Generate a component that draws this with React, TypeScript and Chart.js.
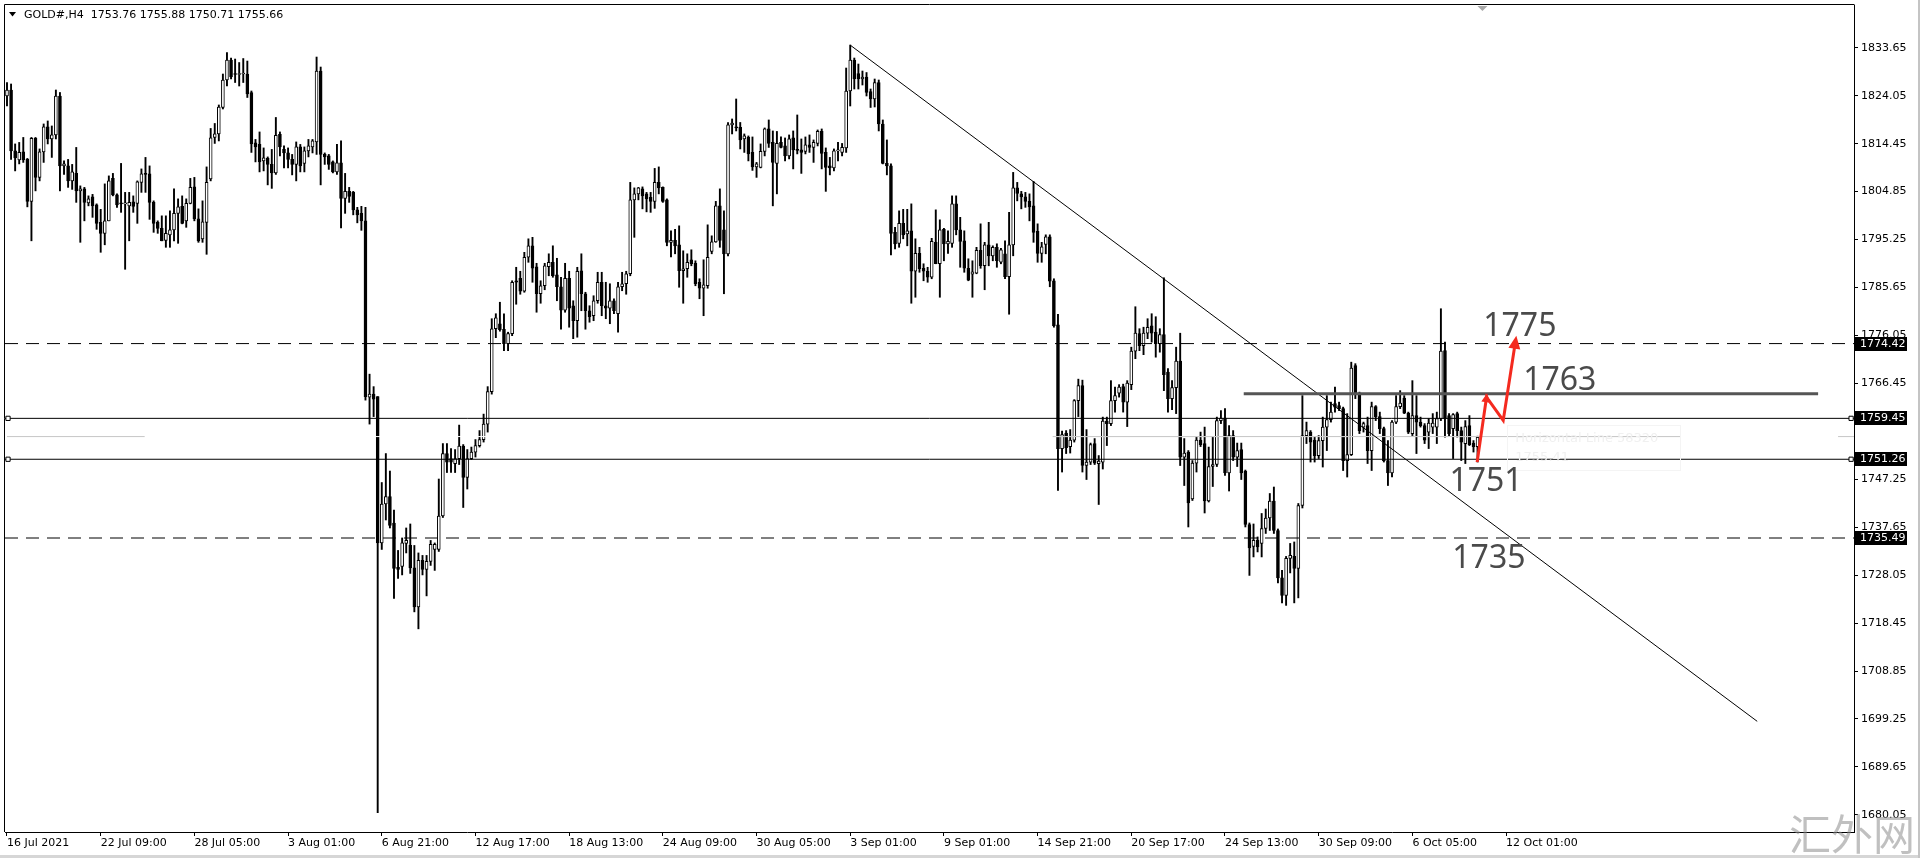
import React, { useEffect, useRef } from 'react';
import { Chart, registerables } from 'chart.js';

Chart.register(...registerables);

// ---------- H4 candles (bar index 0 = 16 Jul 2021 13:00) ----------
const opens = [
  // 16 Jul - 27 Jul
  1824.0,1825.2,1813.0,1811.2,1812.8,1811.3,1802.9,1815.5,1807.7,1812.8,1817.8,1815.4,1816.2,1824.0,1810.0,1810.0,1807.0,1808.5,1805.0,1805.4,1802.6,1803.8,1802.2,1798.7,1796.5,1799.0,1807.5,1804.2,1802.6,1802.4,1802.0,1802.8,1802.5,1806.7,1808.4,1808.4,1802.7,1798.7,1797.5,1795.1,1796.2,1797.2,1800.5,1801.9,1799.0,1802.5,1805.8,1799.4,1795.4,1798.7,1807.4,1815.7,1816.4,1821.7,1827.2,1831.2,1828.4,1828.3,1828.4,1828.4,1824.7,
  // 30 Jul - 11 Aug
  1814.6,1814.3,1811.0,1811.5,1810.3,1808.6,1816.3,1813.3,1812.6,1811.3,1810.3,1813.8,1810.5,1813.0,1813.8,1814.8,1829.0,1812.3,1812.0,1810.8,1808.8,1810.6,1803.5,1804.9,1804.7,1801.2,1800.5,1799.0,1763.7,1764.3,1763.8,1734.5,1742.3,1743.8,1738.5,1729.6,1729.8,1734.4,1734.0,1729.5,1721.7,1731.0,1729.2,1730.8,1733.2,1733.2,1739.9,1752.4,1751.4,1750.4,1751.4,1753.9,1747.6,1751.4,1752.7,1754.0,1755.2,1758.3,1764.8,1777.4,1778.4,
  // 13 Aug - 25 Aug
  1777.3,1774.4,1776.4,1787.0,1787.5,1784.9,1791.7,1794.0,1789.8,1784.4,1786.0,1789.8,1790.7,1788.2,1785.8,1781.1,1787.5,1782.0,1779.0,1789.0,1784.4,1781.0,1780.0,1783.0,1786.7,1782.0,1781.5,1783.0,1780.4,1785.8,1786.4,1788.4,1803.2,1804.4,1805.4,1804.4,1803.7,1802.9,1806.7,1805.7,1803.2,1794.7,1795.1,1794.2,1789.0,1789.4,1791.2,1790.5,1786.7,1785.5,1786.0,1792.9,1794.8,1802.0,1797.2,1792.4,1818.2,1817.8,1817.7,1815.4,1815.7,
  // 27 Aug - 8 Sep
  1812.7,1809.8,1809.7,1812.9,1817.4,1814.7,1810.5,1814.7,1814.0,1812.0,1815.6,1813.2,1813.2,1812.9,1814.2,1813.7,1814.5,1816.9,1812.7,1810.0,1809.6,1813.0,1812.7,1813.6,1825.0,1831.2,1828.5,1827.4,1827.8,1824.9,1823.4,1826.7,1818.4,1810.5,1810.0,1796.7,1794.5,1798.5,1796.4,1797.0,1788.9,1792.5,1789.5,1788.9,1787.7,1794.7,1790.4,1797.3,1794.4,1794.5,1802.4,1797.2,1795.0,1789.5,1788.3,1788.5,1793.1,1790.0,1794.2,1792.0,1793.7,
  // 9 Sep - 22 Sep
  1790.7,1792.4,1787.8,1794.2,1805.6,1804.4,1803.8,1802.9,1802.0,1796.9,1792.5,1794.3,1795.8,1787.0,1778.2,1753.4,1756.5,1753.8,1755.1,1763.0,1766.0,1750.0,1750.7,1754.4,1750.4,1750.7,1758.9,1758.4,1763.0,1764.5,1765.8,1762.7,1766.2,1772.9,1776.4,1774.0,1776.5,1778.0,1776.7,1774.4,1776.2,1768.7,1763.4,1765.6,1770.9,1751.7,1752.7,1743.3,1750.5,1755.1,1754.4,1742.9,1749.8,1750.2,1759.0,1759.5,1748.5,1756.0,1751.7,1753.2,1748.9,1738.2,
  // 23 Sep - 8 Oct
  1733.8,1735.0,1734.4,1737.4,1739.5,1742.9,1737.0,1727.5,1724.0,1731.4,1731.8,1729.4,1742.0,1756.0,1756.7,1755.1,1752.0,1755.0,1757.7,1759.2,1762.4,1762.0,1761.4,1751.0,1752.2,1770.0,1764.4,1757.7,1758.0,1753.0,1761.8,1759.8,1757.4,1751.0,1748.5,1758.7,1761.8,1763.5,1760.5,1756.4,1760.0,1758.7,1758.0,1756.7,1757.7,1757.7,1759.4,1773.0,1760.0,1757.4,1760.4,1757.0,1754.4,1758.0,1754.5,1753.76,
];

const highs = [
  1826.7,1826.4,1814.4,1814.7,1815.7,1811.5,1815.7,1815.7,1813.4,1818.4,1819.0,1818.0,1825.2,1824.7,1811.0,1811.3,1810.3,1813.7,1806.0,1805.7,1804.0,1804.3,1802.4,1801.3,1806.4,1808.0,1808.5,1804.4,1810.5,1804.7,1804.7,1804.0,1807.0,1809.4,1811.7,1810.0,1803.0,1799.0,1800.0,1800.0,1801.0,1805.4,1803.4,1804.0,1803.4,1807.5,1807.7,1801.4,1803.0,1809.8,1817.5,1818.5,1822.2,1828.4,1832.7,1831.6,1831.4,1830.7,1831.5,1831.0,1825.0,
  1815.3,1816.8,1813.6,1811.8,1813.3,1819.7,1816.8,1814.0,1813.6,1812.3,1814.8,1814.3,1813.8,1815.3,1815.3,1831.8,1829.8,1812.6,1812.3,1811.0,1814.3,1815.0,1808.5,1805.7,1804.9,1801.7,1801.9,1801.7,1768.3,1765.8,1763.8,1746.6,1752.4,1748.9,1741.1,1733.0,1735.5,1737.5,1738.3,1734.0,1732.5,1732.0,1732.0,1735.0,1734.5,1747.3,1754.4,1754.4,1753.4,1753.2,1758.1,1754.2,1753.2,1753.7,1755.2,1757.0,1760.3,1765.8,1779.4,1780.4,1782.7,
  1780.4,1776.7,1787.0,1789.7,1788.9,1792.7,1795.4,1795.7,1790.5,1787.0,1790.5,1792.4,1794.0,1791.5,1787.7,1790.5,1788.9,1783.0,1789.7,1792.4,1784.7,1782.0,1784.0,1788.7,1788.7,1786.7,1786.4,1783.4,1786.7,1788.7,1788.9,1806.7,1805.6,1805.7,1805.8,1804.7,1804.7,1809.5,1809.8,1805.8,1803.4,1797.0,1797.3,1798.0,1793.0,1792.4,1793.2,1791.0,1787.4,1791.2,1798.2,1796.0,1802.9,1805.4,1801.0,1818.7,1819.4,1823.4,1818.7,1816.4,1816.0,
  1815.8,1810.7,1814.4,1817.6,1819.2,1817.0,1816.9,1815.8,1815.6,1816.2,1817.0,1820.2,1815.4,1815.8,1816.2,1815.2,1817.2,1817.4,1813.6,1811.7,1813.4,1814.7,1814.5,1829.6,1834.2,1831.6,1830.4,1829.0,1828.7,1825.4,1827.4,1827.2,1819.2,1815.2,1810.4,1797.7,1801.0,1801.3,1801.3,1802.4,1795.4,1793.7,1790.4,1789.7,1795.5,1801.2,1799.2,1797.5,1797.0,1804.0,1804.0,1799.7,1797.0,1791.4,1791.0,1793.7,1798.4,1794.7,1798.7,1794.0,1794.4,
  1793.5,1795.0,1800.7,1808.7,1806.7,1804.9,1804.7,1804.4,1806.9,1798.4,1794.7,1796.2,1796.2,1787.4,1780.3,1756.9,1757.0,1757.2,1763.2,1767.3,1767.1,1757.2,1754.5,1755.4,1752.0,1759.7,1759.7,1767.0,1765.7,1766.2,1766.3,1767.0,1773.7,1781.8,1777.4,1777.7,1779.4,1780.4,1779.8,1777.4,1787.6,1769.4,1767.0,1773.7,1776.5,1755.4,1753.0,1751.0,1755.7,1756.7,1757.7,1753.7,1755.7,1759.7,1761.0,1761.4,1758.0,1757.0,1754.5,1754.5,1749.1,1738.5,
  1738.3,1735.7,1740.4,1741.3,1744.4,1745.7,1737.3,1729.0,1731.8,1734.4,1734.7,1742.4,1764.0,1758.7,1757.0,1755.7,1756.0,1759.7,1764.0,1762.7,1765.7,1762.7,1761.7,1760.4,1770.7,1770.4,1764.7,1758.7,1759.7,1762.7,1762.0,1760.7,1757.7,1755.0,1759.0,1764.0,1765.0,1764.0,1760.7,1767.0,1764.0,1759.7,1758.4,1759.4,1760.4,1760.7,1781.4,1774.7,1760.4,1760.4,1760.7,1757.7,1759.0,1760.0,1755.0,1755.88,
];

const lows = [
  1822.0,1811.3,1809.0,1810.4,1810.7,1801.8,1795.0,1805.0,1807.0,1810.7,1814.4,1811.7,1815.4,1805.0,1808.3,1805.7,1805.3,1802.7,1794.7,1799.0,1802.0,1799.7,1797.3,1792.7,1794.2,1799.0,1804.0,1801.7,1800.7,1789.3,1795.0,1800.7,1798.5,1804.7,1804.7,1799.3,1796.7,1796.5,1795.0,1793.7,1793.7,1795.0,1794.5,1798.4,1797.7,1802.4,1799.0,1794.7,1794.7,1792.3,1807.0,1814.5,1815.0,1821.4,1826.0,1827.4,1826.7,1826.0,1826.7,1823.7,1812.7,
  1810.8,1808.8,1809.0,1806.2,1805.5,1808.3,1812.0,1809.6,1809.6,1808.2,1807.0,1808.8,1808.8,1811.8,1812.6,1812.3,1806.2,1810.3,1809.3,1808.6,1808.3,1797.6,1800.5,1802.7,1800.2,1798.6,1797.1,1763.1,1758.3,1759.8,1680.5,1733.2,1739.1,1737.5,1723.4,1727.4,1728.1,1732.5,1728.4,1720.7,1717.3,1728.1,1723.9,1730.0,1729.0,1732.8,1739.6,1748.6,1748.6,1748.6,1750.2,1741.6,1745.3,1751.2,1751.7,1753.7,1754.7,1756.7,1764.3,1775.6,1776.9,
  1773.0,1773.0,1776.0,1782.3,1784.3,1784.7,1790.7,1786.7,1780.7,1782.5,1785.2,1788.0,1787.7,1783.0,1777.3,1780.7,1777.7,1775.4,1775.7,1781.0,1777.3,1778.7,1779.0,1782.5,1780.0,1779.4,1778.4,1780.4,1776.7,1785.0,1784.3,1788.0,1795.7,1803.2,1801.4,1800.8,1800.7,1801.5,1804.4,1802.7,1794.0,1791.8,1792.4,1785.7,1782.5,1787.7,1790.0,1786.0,1783.4,1780.0,1785.5,1792.4,1794.7,1793.7,1784.4,1792.0,1816.4,1817.0,1813.4,1812.7,1811.0,
  1809.1,1807.7,1809.6,1812.0,1813.7,1802.0,1804.4,1813.6,1811.0,1811.4,1809.4,1812.4,1808.5,1812.4,1812.7,1810.7,1814.0,1809.4,1804.9,1808.2,1809.0,1811.0,1812.0,1812.7,1822.0,1825.4,1825.4,1826.2,1824.0,1821.7,1821.8,1817.0,1810.4,1808.2,1792.2,1793.4,1793.7,1795.4,1794.0,1782.5,1783.7,1788.7,1787.0,1786.7,1787.4,1790.4,1783.7,1791.0,1792.5,1793.7,1796.2,1789.7,1788.7,1787.0,1783.7,1788.4,1789.5,1785.2,1790.0,1791.0,1789.7,
  1790.4,1787.4,1780.3,1792.0,1803.0,1801.4,1801.7,1799.0,1794.7,1790.7,1790.7,1792.4,1785.8,1777.7,1745.0,1748.7,1752.4,1752.5,1754.7,1759.8,1748.7,1747.2,1750.2,1750.2,1742.2,1749.3,1754.0,1758.0,1760.7,1763.7,1760.7,1757.8,1765.2,1771.4,1773.0,1772.2,1775.4,1774.7,1771.7,1772.7,1765.0,1760.7,1761.2,1760.4,1750.0,1746.0,1737.7,1743.0,1748.7,1753.8,1740.5,1742.7,1745.8,1749.8,1758.4,1748.0,1744.9,1751.0,1749.8,1747.2,1737.7,1728.0,
  1731.7,1732.7,1731.7,1736.4,1737.0,1736.4,1726.5,1722.5,1722.0,1728.5,1722.5,1723.5,1741.5,1754.4,1750.7,1750.7,1751.4,1749.7,1753.0,1758.7,1760.7,1761.0,1749.0,1747.7,1752.0,1763.4,1756.4,1756.7,1750.4,1749.0,1759.0,1756.4,1750.7,1746.0,1747.7,1758.4,1761.4,1760.4,1756.4,1756.0,1752.4,1757.7,1754.4,1753.4,1756.4,1754.4,1759.0,1755.7,1756.0,1751.4,1755.7,1751.0,1750.4,1754.0,1752.7,1750.71,
];

const closes = [
  1825.2,1813.0,1811.6,1812.7,1811.2,1802.9,1815.5,1807.7,1812.8,1817.8,1815.4,1816.2,1824.0,1810.0,1810.4,1807.0,1808.8,1805.0,1805.4,1802.7,1803.4,1802.0,1798.5,1796.5,1799.0,1807.0,1804.2,1802.2,1802.4,1802.5,1802.7,1801.9,1806.8,1808.4,1808.3,1802.7,1798.5,1797.5,1795.0,1796.5,1797.2,1800.5,1801.8,1798.5,1802.5,1805.7,1799.4,1795.0,1798.8,1806.7,1815.6,1816.4,1821.8,1827.2,1831.2,1827.8,1828.3,1828.4,1828.5,1824.4,1814.4,
  1813.8,1810.8,1811.6,1810.3,1808.6,1816.1,1813.8,1812.6,1811.3,1810.3,1813.8,1810.0,1813.0,1814.0,1815.0,1829.0,1812.3,1811.8,1810.3,1808.8,1810.6,1803.5,1804.9,1803.9,1801.2,1800.2,1799.0,1763.8,1764.3,1763.3,1734.5,1742.3,1743.8,1738.0,1729.4,1729.2,1734.5,1735.0,1729.5,1721.7,1731.0,1729.2,1730.8,1734.2,1734.2,1739.9,1752.4,1750.7,1750.7,1751.4,1753.9,1747.6,1751.4,1752.7,1754.0,1755.2,1758.3,1764.8,1777.4,1779.6,1777.2,
  1774.4,1776.4,1786.7,1786.7,1784.9,1791.7,1794.0,1789.5,1784.4,1786.0,1790.0,1790.7,1788.0,1785.8,1781.1,1787.5,1781.5,1779.0,1788.9,1784.4,1781.0,1779.8,1783.0,1786.7,1782.0,1781.5,1783.0,1781.0,1785.8,1786.4,1788.4,1803.2,1804.4,1805.6,1804.0,1803.4,1802.9,1806.7,1805.6,1802.9,1794.7,1795.1,1794.0,1789.0,1789.4,1790.7,1790.4,1786.4,1785.5,1786.2,1791.7,1794.8,1802.0,1795.1,1792.4,1818.2,1818.6,1817.6,1815.2,1816.0,1812.4,
  1809.8,1810.4,1812.9,1817.4,1814.5,1810.7,1814.5,1813.7,1812.0,1815.4,1813.2,1813.1,1812.7,1814.2,1813.7,1814.7,1816.9,1812.5,1809.7,1809.6,1813.0,1813.2,1813.7,1825.0,1831.2,1827.4,1827.4,1827.8,1824.7,1823.4,1826.7,1818.4,1810.5,1810.0,1796.5,1794.4,1798.5,1796.2,1797.0,1788.9,1792.5,1789.4,1788.9,1787.7,1794.9,1790.4,1797.2,1794.4,1794.9,1802.4,1797.2,1794.9,1789.5,1787.1,1788.8,1793.1,1790.0,1794.2,1792.0,1793.7,1791.0,
  1793.2,1787.8,1794.2,1805.6,1804.5,1803.8,1802.9,1801.8,1796.7,1792.5,1793.8,1795.8,1786.9,1778.0,1753.4,1756.2,1753.6,1755.1,1763.0,1766.0,1750.0,1750.7,1754.2,1750.5,1750.9,1758.9,1758.4,1763.0,1764.0,1765.7,1762.7,1766.5,1772.9,1776.5,1774.0,1776.5,1777.7,1776.5,1774.4,1776.2,1768.2,1763.4,1765.6,1770.9,1751.7,1752.5,1742.5,1750.5,1755.1,1754.2,1742.9,1749.8,1750.2,1759.0,1759.5,1748.5,1756.0,1751.7,1753.0,1748.5,1738.2,1733.5,
  1735.0,1733.7,1737.4,1739.5,1742.9,1737.0,1727.5,1724.0,1731.4,1732.0,1729.4,1742.0,1756.0,1757.0,1754.7,1752.0,1755.0,1757.7,1759.2,1760.7,1761.7,1761.4,1751.0,1752.2,1769.5,1764.4,1757.0,1758.4,1753.0,1761.8,1759.8,1757.4,1751.0,1748.5,1758.7,1761.8,1762.5,1760.5,1756.7,1760.0,1758.7,1758.0,1755.1,1758.5,1758.5,1759.4,1772.9,1759.4,1756.4,1760.2,1757.0,1754.7,1757.8,1754.2,1753.8,1755.66,
];

// ---------- axes ----------
const priceTicks = [1680.05, 1689.65, 1699.25, 1708.85, 1718.45, 1728.05, 1737.65, 1747.25, 1766.45, 1776.05, 1785.65, 1795.25, 1804.85, 1814.45, 1824.05, 1833.65];
const timeTickBars = [0, 23, 46, 69, 92, 115, 138, 161, 184, 207, 230, 253, 276, 299, 322, 345, 368];
const timeTickLabels = ['16 Jul 2021', '22 Jul 09:00', '28 Jul 05:00', '3 Aug 01:00', '6 Aug 21:00', '12 Aug 17:00', '18 Aug 13:00', '24 Aug 09:00', '30 Aug 05:00', '3 Sep 01:00', '9 Sep 01:00', '14 Sep 21:00', '20 Sep 17:00', '24 Sep 13:00', '30 Sep 09:00', '6 Oct 05:00', '12 Oct 01:00'];

// ---------- drawn objects ----------
const dashedLevels = [1774.42, 1735.49];
const solidLevels = [1759.45, 1751.26];
const boxedLevels = [1774.42, 1759.45, 1751.26, 1735.49];
const hiddenLineLevel = 1755.8;
const resistanceLine = [{ x: 303.6, y: 1764.36 }, { x: 444.6, y: 1764.36 }];
const trendLine = [{ x: 207.04, y: 1834.16 }, { x: 429.65, y: 1698.78 }];
const forecastPath = [{ x: 360.9, y: 1750.68 }, { x: 363.2, y: 1763.68 }, { x: 367.3, y: 1759.02 }, { x: 370.3, y: 1774.82 }];
const levelTexts = [
  { text: '1775', x: 362.4, y: 1776.0 },
  { text: '1763', x: 372.2, y: 1765.2 },
  { text: '1751', x: 354.1, y: 1745.0 },
  { text: '1735', x: 354.8, y: 1729.4 },
];
const headerText = 'GOLD#,H4  1753.76 1755.88 1750.71 1755.66';

const X_MIN = -0.49;
const X_MAX = 453.41;
const Y_MIN = 1676.62;
const Y_MAX = 1842.22;

const AXIS_FONT = '"DejaVu Sans", "Liberation Sans", sans-serif';

function hLine(v: number, extra: any) {
  return {
    type: 'line',
    data: [{ x: X_MIN, y: v }, { x: X_MAX, y: v }],
    borderColor: '#000',
    borderWidth: 1,
    pointRadius: 0,
    order: 1,
    ...extra,
  };
}

function drawHead(ctx: CanvasRenderingContext2D, from: number[], to: number[], len: number, half: number) {
  const a = Math.atan2(to[1] - from[1], to[0] - from[0]);
  const c = Math.cos(a), s = Math.sin(a);
  const tip = [to[0] + c * len * 0.45, to[1] + s * len * 0.45];
  const base = [tip[0] - c * len, tip[1] - s * len];
  ctx.beginPath();
  ctx.moveTo(tip[0], tip[1]);
  ctx.lineTo(base[0] - s * half, base[1] + c * half);
  ctx.lineTo(base[0] + s * half, base[1] - c * half);
  ctx.closePath();
  ctx.fill();
}

const overlay = {
  id: 'mt4Overlay',
  beforeDraw(chart: any) {
    const { ctx, width, height } = chart;
    ctx.save();
    ctx.fillStyle = '#fff';
    ctx.fillRect(0, 0, width, height);
    ctx.restore();
  },
  afterDatasetsDraw(chart: any) {
    const { ctx, chartArea, scales } = chart;
    const x = scales.x, y = scales.y;
    ctx.save();
    ctx.beginPath();
    ctx.rect(chartArea.left, chartArea.top, chartArea.right - chartArea.left, chartArea.bottom - chartArea.top);
    ctx.clip();

    // faint object description box
    const bx = x.getPixelForValue(368.3), by = y.getPixelForValue(1758.02);
    ctx.strokeStyle = '#f4f4f4';
    ctx.lineWidth = 1;
    ctx.strokeRect(Math.round(bx) + 0.5, Math.round(by) + 0.5, 173, 45);
    ctx.fillStyle = '#f0f0f0';
    ctx.font = '13px "DejaVu Sans", sans-serif';
    ctx.textBaseline = 'middle';
    ctx.fillText('Horizontal Line 58320', bx + 8, by + 13);
    ctx.fillText('1755.41', bx + 8, by + 32);

    // arrow heads of the forecast path
    const pts = forecastPath.map((p) => [x.getPixelForValue(p.x), y.getPixelForValue(p.y)]);
    ctx.fillStyle = '#f42a1f';
    drawHead(ctx, pts[0], pts[1], 9, 4.5);
    drawHead(ctx, pts[2], pts[3], 13, 6);

    // level labels
    ctx.fillStyle = '#4a4a4a';
    ctx.font = '32px "Noto Sans", "Open Sans", sans-serif';
    ctx.textBaseline = 'alphabetic';
    levelTexts.forEach((t) => {
      ctx.fillText(t.text, x.getPixelForValue(t.x), y.getPixelForValue(t.y));
    });
    ctx.restore();
  },
  afterDraw(chart: any) {
    const { ctx, chartArea, scales, width, height } = chart;
    const y = scales.y;
    ctx.save();
    // frame
    ctx.strokeStyle = '#000';
    ctx.lineWidth = 1;
    ctx.beginPath();
    ctx.moveTo(chartArea.left - 0.5, chartArea.bottom);
    ctx.lineTo(chartArea.left - 0.5, chartArea.top - 0.5);
    ctx.lineTo(chartArea.right + 0.5, chartArea.top - 0.5);
    ctx.stroke();

    // header
    ctx.fillStyle = '#000';
    ctx.beginPath();
    ctx.moveTo(9, 12);
    ctx.lineTo(16, 12);
    ctx.lineTo(12.5, 16.5);
    ctx.closePath();
    ctx.fill();
    ctx.font = '11px ' + AXIS_FONT;
    ctx.textBaseline = 'middle';
    ctx.fillText(headerText, 24, 15);

    // chart shift marker
    ctx.fillStyle = '#a8a8a8';
    const sx = scales.x.getPixelForValue(362.2);
    ctx.beginPath();
    ctx.moveTo(sx - 5, chartArea.top + 1);
    ctx.lineTo(sx + 5, chartArea.top + 1);
    ctx.lineTo(sx, chartArea.top + 6);
    ctx.closePath();
    ctx.fill();

    // price boxes on the axis
    boxedLevels.forEach((v) => {
      const py = Math.round(y.getPixelForValue(v));
      ctx.fillStyle = '#000';
      ctx.fillRect(chartArea.right + 1, py - 7, 52, 14);
      ctx.fillStyle = '#fff';
      ctx.font = '11px ' + AXIS_FONT;
      ctx.textBaseline = 'middle';
      ctx.fillText(v.toFixed(2), chartArea.right + 6, py + 0.5);
    });

    // window edges
    ctx.fillStyle = '#d6d6d6';
    ctx.fillRect(0, height - 3, width, 3);
    ctx.fillStyle = '#c4c4c4';
    ctx.fillRect(width - 2, 0, 2, height);

    // watermark
    ctx.fillStyle = 'rgba(140,140,140,0.55)';
    ctx.font = '42px "Noto Sans CJK SC", sans-serif';
    ctx.textBaseline = 'alphabetic';
    ctx.fillText('汇外网', 1789, 850);
    ctx.restore();
  },
};

export default function App() {
  const ref = useRef<HTMLCanvasElement>(null);

  useEffect(() => {
    const canvas = ref.current;
    if (!canvas) return;
    const idx = opens.map((_, i) => i);
    const wickData = idx.map((i) => ({ x: i, y: [lows[i], highs[i]] }));
    const bodyData = idx.map((i) => ({ x: i, y: [Math.min(opens[i], closes[i]), Math.max(opens[i], closes[i])] }));
    const bodyFill = idx.map((i) => (closes[i] > opens[i] ? '#ffffff' : '#000000'));

    const datasets: any[] = [
      {
        type: 'line',
        label: 'forecast',
        data: forecastPath,
        borderColor: '#f42a1f',
        borderWidth: 3,
        pointRadius: 0,
        tension: 0,
        borderJoinStyle: 'miter',
        order: 0,
      },
      {
        type: 'line',
        label: 'markers',
        data: [
          { x: 0.25, y: solidLevels[0] }, { x: 452.7, y: solidLevels[0] },
          { x: 0.25, y: solidLevels[1] }, { x: 452.7, y: solidLevels[1] },
        ],
        showLine: false,
        pointStyle: 'rect',
        pointRadius: 3,
        pointBackgroundColor: '#fff',
        pointBorderColor: '#000',
        pointBorderWidth: 1,
        order: 0,
      },
      ...dashedLevels.map((v) => hLine(v, { borderDash: [13, 8] })),
      ...solidLevels.map((v) => hLine(v, {})),
      {
        type: 'line',
        label: 'resistance',
        data: resistanceLine,
        borderColor: '#555',
        borderWidth: 3,
        pointRadius: 0,
        order: 1,
      },
      {
        type: 'line',
        label: 'trend',
        data: trendLine,
        borderColor: '#000',
        borderWidth: 1,
        pointRadius: 0,
        order: 1,
      },
      {
        type: 'line',
        label: 'hidden-a',
        data: [{ x: 0, y: hiddenLineLevel }, { x: 33.8, y: hiddenLineLevel }],
        borderColor: '#c6c6c6', borderWidth: 1, pointRadius: 0, order: 1.5,
      },
      {
        type: 'line',
        label: 'hidden-b',
        data: [{ x: 256.7, y: hiddenLineLevel }, { x: 410.7, y: hiddenLineLevel }],
        borderColor: '#c6c6c6', borderWidth: 1, pointRadius: 0, order: 1.5,
      },
      {
        type: 'line',
        label: 'hidden-c',
        data: [{ x: 449.5, y: hiddenLineLevel }, { x: X_MAX, y: hiddenLineLevel }],
        borderColor: '#c6c6c6', borderWidth: 1, pointRadius: 0, order: 1.5,
      },
      hLine(hiddenLineLevel, { borderColor: '#ffffff', order: 1.6 }),
      {
        type: 'bar',
        label: 'bodies',
        data: bodyData,
        backgroundColor: bodyFill,
        borderColor: '#000',
        borderWidth: 1,
        borderSkipped: false,
        barThickness: 3,
        minBarLength: 1,
        grouped: false,
        order: 2,
      },
      {
        type: 'bar',
        label: 'wicks',
        data: wickData,
        backgroundColor: '#000',
        borderWidth: 0,
        barThickness: 1.25,
        grouped: false,
        order: 3,
      },
    ];

    const chart = new Chart(canvas, {
      type: 'bar',
      data: { datasets },
      options: {
        animation: false,
        responsive: true,
        maintainAspectRatio: false,
        devicePixelRatio: 1,
        events: [],
        layout: { padding: { left: 3, top: 4, right: 0, bottom: 0 } },
        plugins: { legend: { display: false }, tooltip: { enabled: false } },
        scales: {
          x: {
            type: 'linear',
            min: X_MIN,
            max: X_MAX,
            offset: false,
            grid: { display: true, drawOnChartArea: false, drawTicks: true, tickLength: 4, color: '#000', offset: false },
            border: { display: true, color: '#000' },
            ticks: {
              autoSkip: false,
              maxRotation: 0,
              minRotation: 0,
              align: 'start',
              padding: 1,
              color: '#000',
              font: { family: AXIS_FONT, size: 11 },
              callback: (_v: any, i: number) => timeTickLabels[i] ?? '',
            },
            afterBuildTicks: (s: any) => {
              s.ticks = timeTickBars.map((v) => ({ value: v }));
            },
            afterFit: (s: any) => {
              s.height = 26;
              s.paddingLeft = 0;
              s.paddingRight = 0;
            },
          },
          y: {
            type: 'linear',
            position: 'right',
            min: Y_MIN,
            max: Y_MAX,
            grid: { display: true, drawOnChartArea: false, drawTicks: true, tickLength: 4, color: '#000' },
            border: { display: true, color: '#000' },
            ticks: {
              autoSkip: false,
              padding: 3,
              color: '#000',
              font: { family: AXIS_FONT, size: 11 },
              callback: (v: any) => Number(v).toFixed(2),
            },
            afterBuildTicks: (s: any) => {
              s.ticks = priceTicks.map((v) => ({ value: v }));
            },
            afterFit: (s: any) => {
              s.width = 66;
              s.paddingTop = 0;
              s.paddingBottom = 0;
            },
          },
        },
      } as any,
      plugins: [overlay as any],
    });
    return () => chart.destroy();
  }, []);

  return (
    <div style={{ position: 'fixed', left: 0, top: 0, width: 1920, height: 858, background: '#fff' }}>
      <canvas ref={ref} style={{ display: 'block' }} />
    </div>
  );
}
